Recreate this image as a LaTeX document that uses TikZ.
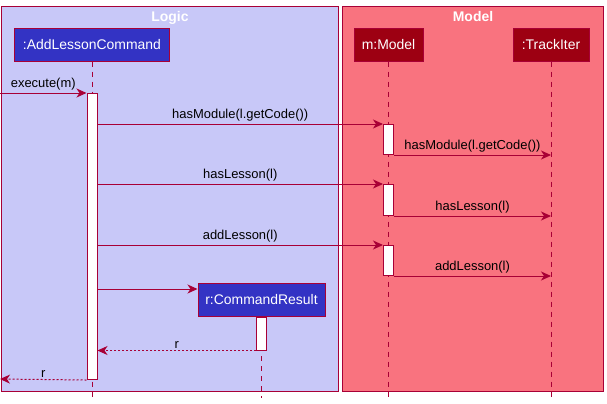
\documentclass[tikz,border=0pt]{standalone}
\usepackage{fontspec}
\setmainfont{Liberation Sans}
\usetikzlibrary{arrows.meta,positioning}
\definecolor{umlred}{HTML}{A80036}
\definecolor{logicbg}{HTML}{C8C8F8}
\definecolor{modelbg}{HTML}{F9737F}
\definecolor{logicfg}{HTML}{3333C4}
\definecolor{modelfg}{HTML}{9D0012}

\begin{document}
\begin{tikzpicture}[x=1bp, y=-1bp,
  grp/.style={draw=umlred, line width=1bp, anchor=north west, inner sep=0pt},
  grptitle/.style={text=white, font=\fontsize{14}{16}\selectfont\bfseries, anchor=north, inner sep=0pt},
  part/.style={draw=umlred, line width=1bp, text=white, minimum height=33bp,
               inner sep=0pt, font=\fontsize{14}{16}\selectfont},
  life/.style={umlred, line width=1bp, dash pattern=on 5bp off 5bp},
  act/.style={draw=umlred, fill=white, line width=1bp, minimum width=10bp,
              anchor=north, inner sep=0pt},
  msg/.style={-{Stealth[length=10bp, width=9bp, inset=3bp]}, umlred, line width=1bp},
  ret/.style={msg, dash pattern=on 2bp off 2bp},
  lbl/.style={text=black, font=\fontsize{13}{15}\selectfont, above, inner sep=2bp}
]
  \useasboundingbox (0,0) rectangle (607,403);

  \node[grp, fill=logicbg, minimum width=337bp, minimum height=385bp] (logic) at (1,6) {};
  \node[grp, fill=modelbg, minimum width=261bp, minimum height=385bp] (model) at (342,6) {};
  \node[grptitle] (logict) at ([yshift=-5bp]logic.north) {Logic};
  \node[grptitle] (modelt) at ([yshift=-5bp]model.north) {Model};

  \node[part, fill=logicfg, minimum width=154bp] (alc) at (92,44.5) {:AddLessonCommand};
  \node[part, fill=modelfg, minimum width=69bp] (mdl) at (388.5,44.5) {m:Model};
  \node[part, fill=modelfg, minimum width=76bp] (trk) at (551,44.5) {:TrackIter};

  \coordinate (bot) at (0,398);
  \coordinate (crt) at (0,289);
  \draw[life] (alc.south) -- (alc.south |- bot);
  \draw[life] (mdl.south) -- (mdl.south |- bot);
  \draw[life] (trk.south) -- (trk.south |- bot);
  \draw[life] (261.5,316) -- (261.5,398);

  \node[act, minimum height=286bp] (a1) at (alc.south |- 0,93) {};
  \node[act, minimum height=30bp] (m1) at (mdl.south |- 0,124) {};
  \node[act, minimum height=31bp] (m2) at (mdl.south |- 0,184) {};
  \node[act, minimum height=30bp] (m3) at (mdl.south |- 0,245) {};

  \coordinate (in) at (0,93);
  \coordinate (out) at (0,379);
  \draw[msg] (in) -- node[lbl]{execute(m)} (a1.north west);

  \draw[msg] (a1.east |- m1.north) -- node[lbl]{hasModule(l.getCode())} (m1.north west);
  \draw[msg] (m1.south east) -- node[lbl]{hasModule(l.getCode())} (m1.south -| trk);
  \draw[msg] (a1.east |- m2.north) -- node[lbl]{hasLesson(l)} (m2.north west);
  \draw[msg] (m2.south east) -- node[lbl]{hasLesson(l)} (m2.south -| trk);
  \draw[msg] (a1.east |- m3.north) -- node[lbl]{addLesson(l)} (m3.north west);
  \draw[msg] (m3.south east) -- node[lbl]{addLesson(l)} (m3.south -| trk);

  \node[part, fill=logicfg, minimum width=127bp] (res) at (261.5,299.5) {r:CommandResult};
  \node[act, minimum height=33bp] (r1) at (res.south) {};
  \draw[msg] (a1.east |- crt) -- (res.west |- crt);
  \draw[ret] (r1.south west) -- node[lbl]{r} (a1.east |- r1.south);
  \draw[ret] (a1.south west) -- node[lbl]{r} (out);
\end{tikzpicture}
\end{document}
